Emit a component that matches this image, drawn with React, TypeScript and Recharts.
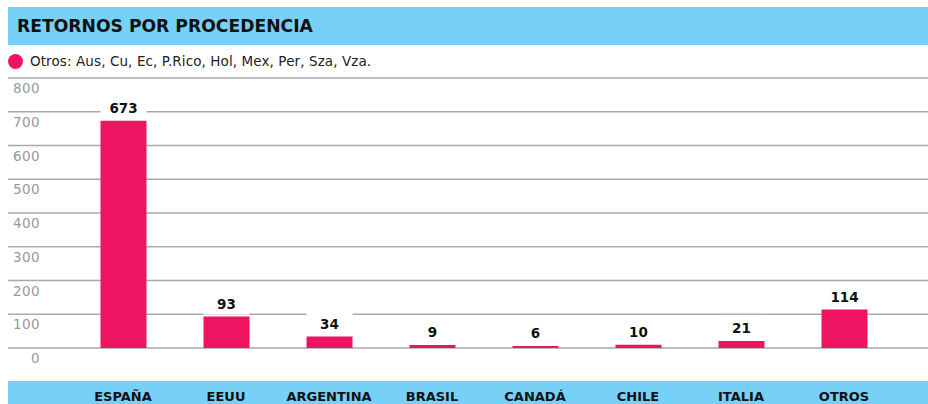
import React from 'react';
import { BarChart, Bar, XAxis, YAxis, CartesianGrid, LabelList } from 'recharts';

const categories = ['ESPAÑA', 'EEUU', 'ARGENTINA', 'BRASIL', 'CANADÁ', 'CHILE', 'ITALIA', 'OTROS'];
const retornos = [673, 93, 34, 9, 6, 10, 21, 114];
const yTicks = [0, 100, 200, 300, 400, 500, 600, 700, 800];

const data = categories.map((name, i) => ({ name, value: retornos[i] }));

const FONT = '"DejaVu Sans", sans-serif';
const BLUE = '#77d0f5';
const PINK = '#ef1462';

const YTick = ({ y, payload }: any) => (
  <text x={32} y={y + 15} textAnchor="end" fill="#999" fontSize={13.5} letterSpacing={0.4} fontFamily={FONT}>
    {payload.value}
  </text>
);

const XTick = ({ x, payload }: any) => (
  <text x={x} y={401} textAnchor="middle" fill="#111" fontSize={13} fontWeight="bold" fontFamily={FONT}>
    {payload.value}
  </text>
);

const ValueLabel = ({ x, y, width, value }: any) => (
  <g>
    <rect x={x} y={y - 26} width={width} height={24} fill="#fff" />
    <text x={x + width / 2} y={y - 8} textAnchor="middle" fill="#111" fontSize={13.5} fontWeight="bold" fontFamily={FONT}>
      {value}
    </text>
  </g>
);

export default function App() {
  return (
    <div style={{ position: 'absolute', left: 0, top: 0, width: 928, height: 404, background: '#fff', overflow: 'hidden' }}>
      <div style={{ position: 'absolute', left: 8, top: 7, width: 920, height: 38, background: BLUE }}>
        <span style={{ position: 'absolute', left: 9, top: 9, fontFamily: FONT, fontWeight: 'bold', fontSize: 17.2, color: '#111', lineHeight: '20px' }}>
          RETORNOS POR PROCEDENCIA
        </span>
      </div>
      <div style={{ position: 'absolute', left: 8, top: 54, width: 15, height: 15, borderRadius: '50%', background: PINK }} />
      <span style={{ position: 'absolute', left: 30, top: 53, fontFamily: FONT, fontSize: 13.5, letterSpacing: 0.1, color: '#222', lineHeight: '16px' }}>
        Otros: Aus, Cu, Ec, P.Rico, Hol, Mex, Per, Sza, Vza.
      </span>
      <div style={{ position: 'absolute', left: 8, top: 381, width: 920, height: 23, background: BLUE }} />
      <div style={{ position: 'absolute', left: 8, top: 0 }}>
        <BarChart width={920} height={404} data={data} margin={{ top: 78, right: 0, bottom: 0, left: -1 }} barSize={46}>
          <CartesianGrid horizontal vertical={false} stroke="#a9a9a9" strokeWidth={1.3} />
          <XAxis
            dataKey="name"
            axisLine={false}
            tickLine={false}
            height={56}
            interval={0}
            padding={{ left: 63.5, right: 32.5 }}
            tick={<XTick />}
          />
          <YAxis
            domain={[0, 800]}
            ticks={yTicks}
            interval={0}
            width={1}
            axisLine={false}
            tickLine={false}
            tick={<YTick />}
          />
          <Bar dataKey="value" fill={PINK} isAnimationActive={false}>
            <LabelList dataKey="value" content={<ValueLabel />} />
          </Bar>
        </BarChart>
      </div>
    </div>
  );
}
